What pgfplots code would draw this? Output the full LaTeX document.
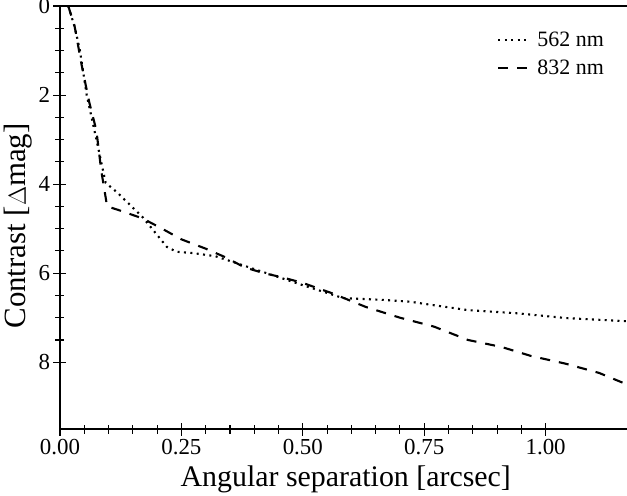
\documentclass[border=0pt]{standalone}
\usepackage{fontspec}
\setmainfont{Liberation Serif}
\usepackage{pgfplots}
\pgfplotsset{compat=1.18}
\begin{document}
\begin{tikzpicture}
\begin{axis}[
  scale only axis,
  width=567bp, height=423bp,
  xmin=0, xmax=1.1676, ymin=0, ymax=9.5,
  y dir=reverse,
  axis y line*=left,
  axis x line*=box,
  xtick pos=bottom,
  xtick={0,0.25,0.5,0.75,1.0},
  ytick={0,2,4,6,8},
  minor x tick num=4,
  minor y tick num=3,
  tick align=center,
  major tick length=13bp,
  minor tick length=9bp,
  every tick/.style={line width=1.1bp, black},
  axis line style={line width=1.2bp, -},
  /pgf/number format/assume math mode=true,
  xticklabel style={/pgf/number format/.cd, fixed, fixed zerofill, precision=2},
  ticklabel style={font=\fontsize{23}{27}\selectfont},
  xlabel={Angular separation [arcsec]},
  ylabel={Contrast [$\Delta$mag]},
  xlabel style={font=\fontsize{30}{34}\selectfont, at={(axis description cs:0.504,-0.1348)}, anchor=base},
  ylabel style={font=\fontsize{31}{35}\selectfont, at={(axis description cs:-0.073,0.48)}, anchor=center},
  legend style={draw=none, fill=none, at={(1,1)}, anchor=north east,
    xshift=-18bp, yshift=-22bp, font=\fontsize{22}{26}\selectfont,
    row sep=8bp},
  legend cell align=left,
  legend image code/.code={\draw[#1] (0bp,0bp) -- (30bp,0bp);},
]
\coordinate (bl) at (axis cs:0,9.5);
\coordinate (tr) at (axis cs:1.1676,0);
\addplot[black, line width=2.1bp, dash pattern=on 2bp off 4.4bp] coordinates {
(0.017,0.0)(0.031,0.5)(0.041,1.0)(0.055,2.0)(0.075,3.0)(0.094,3.97)(0.117,4.18)
(0.17,4.74)(0.22,5.41)(0.24,5.52)(0.275,5.55)(0.32,5.62)(0.365,5.78)(0.42,5.98)
(0.50,6.27)(0.583,6.56)(0.665,6.6)(0.72,6.64)(0.77,6.72)(0.84,6.83)(0.94,6.9)
(1.044,7.01)(1.1676,7.08)
};
\addlegendentry{\hspace{6bp}562 nm}
\addplot[black, line width=2.1bp, dash pattern=on 10bp off 9bp] coordinates {
(0.017,0.0)(0.03,0.45)(0.045,1.35)(0.06,2.15)(0.075,2.8)(0.085,3.7)(0.097,4.5)
(0.12,4.58)(0.17,4.77)(0.21,5.0)(0.25,5.24)(0.30,5.45)(0.34,5.64)(0.38,5.87)
(0.42,6.0)(0.46,6.1)(0.50,6.22)(0.56,6.45)(0.63,6.76)(0.70,7.0)(0.77,7.2)
(0.84,7.5)(0.91,7.66)(0.97,7.86)(1.04,8.03)(1.11,8.24)(1.1676,8.5)
};
\addlegendentry{\hspace{6bp}832 nm}
\end{axis}
\pgfresetboundingbox
\path ([shift={(-60bp,-67bp)}]bl) rectangle ([shift={(0bp,6bp)}]tr);
\end{tikzpicture}
\end{document}
